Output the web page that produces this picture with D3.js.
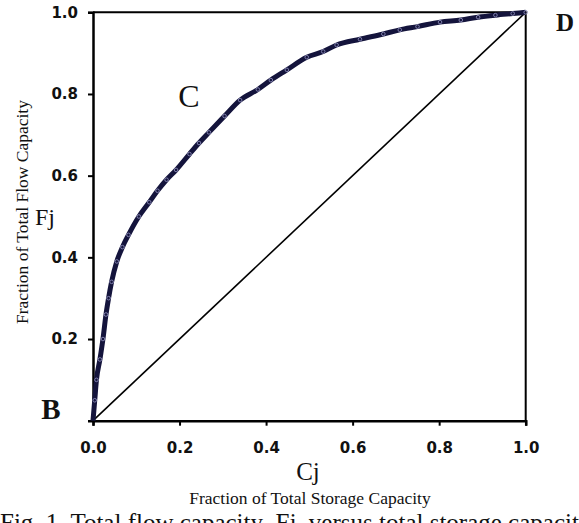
<!DOCTYPE html>
<html>
<head>
<meta charset="utf-8">
<script src="https://cdn.jsdelivr.net/npm/d3@7"></script>
<style>
  body { margin: 0; background: #fff; }
  svg { display: block; }
</style>
</head>
<body>
<svg id="chart" width="579" height="523"></svg>
<script>
// storage capacity fraction (Cj) and flow capacity fraction (Fj)
var cj = [0, 0.004, 0.008, 0.016, 0.023, 0.03, 0.036, 0.043, 0.055, 0.068, 0.082, 0.106,
  0.13, 0.149, 0.17, 0.192, 0.223, 0.245, 0.268, 0.304, 0.34, 0.381, 0.411, 0.448,
  0.494, 0.532, 0.563, 0.617, 0.671, 0.709, 0.75, 0.802, 0.85, 0.89, 0.93, 0.97, 1];
var fj = [0, 0.05, 0.1, 0.15, 0.2, 0.26, 0.3, 0.34, 0.39, 0.425, 0.455, 0.5,
  0.535, 0.563, 0.59, 0.614, 0.653, 0.68, 0.706, 0.746, 0.785, 0.811, 0.834, 0.859,
  0.89, 0.904, 0.92, 0.934, 0.947, 0.957, 0.965, 0.976, 0.981, 0.988, 0.993, 0.997, 1];
var diagonal = [0, 1];
var xTicks = [0, 0.2, 0.4, 0.6, 0.8, 1.0];
var yTicks = [0.2, 0.4, 0.6, 0.8, 1.0];

var svg = d3.select("#chart");
var plotL = 93, plotR = 525.7, plotT = 12.3, plotB = 420.7;

var x = d3.scaleLinear().domain([0, 1]).range([plotL, plotR]);
var y = d3.scaleLinear().domain([0, 1]).range([plotB, plotT]);

var pts = cj.map(function(c, i) { return [c, fj[i]]; });

// frame: top and right borders
svg.append("path")
  .attr("d", "M" + x(0) + "," + y(1) + "H" + x(1) + "V" + y(0))
  .attr("fill", "none").attr("stroke", "#000").attr("stroke-width", 2);

// axes
var xAxis = svg.append("g")
  .attr("transform", "translate(0," + y(0) + ")")
  .call(d3.axisBottom(x).tickValues(xTicks).tickFormat(d3.format(".1f")).tickSize(5).tickPadding(17));
var yAxis = svg.append("g")
  .attr("transform", "translate(" + x(0) + ",0)")
  .call(d3.axisLeft(y).tickValues(yTicks).tickFormat(d3.format(".1f")).tickSize(5).tickPadding(10));

[xAxis, yAxis].forEach(function(g) {
  g.select(".domain").attr("stroke-width", 2.5);
  g.selectAll(".tick line").attr("stroke-width", 2);
  g.selectAll(".tick text")
    .attr("font-family", "DejaVu Sans, Verdana, sans-serif")
    .attr("font-weight", "bold")
    .attr("font-size", 15)
    .attr("fill", "#111");
});

// 1:1 line
svg.append("line")
  .attr("x1", x(diagonal[0])).attr("y1", y(diagonal[0]))
  .attr("x2", x(diagonal[1])).attr("y2", y(diagonal[1]))
  .attr("stroke", "#000").attr("stroke-width", 1.6);

// flow capacity curve
svg.append("path")
  .datum(pts)
  .attr("fill", "none")
  .attr("stroke", "#14143c")
  .attr("stroke-width", 5)
  .attr("stroke-linejoin", "round")
  .attr("d", d3.line().x(function(d) { return x(d[0]); }).y(function(d) { return y(d[1]); }).curve(d3.curveMonotoneX));

svg.append("g").selectAll("circle")
  .data(pts.slice(1))
  .enter().append("circle")
    .attr("cx", function(d) { return x(d[0]); })
    .attr("cy", function(d) { return y(d[1]); })
    .attr("r", 1.8)
    .attr("fill", "none")
    .attr("stroke", "#8a8ab8")
    .attr("stroke-width", 0.9);

// labels
var serif = "Liberation Serif, Times New Roman, serif";
function label(tx, ty, str, size, weight, anchor) {
  return svg.append("text")
    .attr("x", tx).attr("y", ty)
    .attr("font-family", serif)
    .attr("font-size", size)
    .attr("font-weight", weight || "normal")
    .attr("text-anchor", anchor || "middle")
    .attr("fill", "#111")
    .style("white-space", "pre")
    .text(str);
}
label(189, 107, "C", 32);
label(565, 31, "D", 25, "bold");
label(51, 419, "B", 29, "bold");
label(45, 225, "Fj", 24);
label(308, 480, "Cj", 25);
label(310, 504, "Fraction of Total Storage Capacity", 17.5);
label(0, 531, "Fig. 1. Total flow capacity  Fj  versus total storage capacity", 25, "normal", "start");

svg.append("text")
  .attr("transform", "translate(28,212) rotate(-90)")
  .attr("font-family", serif)
  .attr("font-size", 17.5)
  .attr("text-anchor", "middle")
  .attr("fill", "#111")
  .text("Fraction of Total Flow Capacity");
</script>
</body>
</html>
